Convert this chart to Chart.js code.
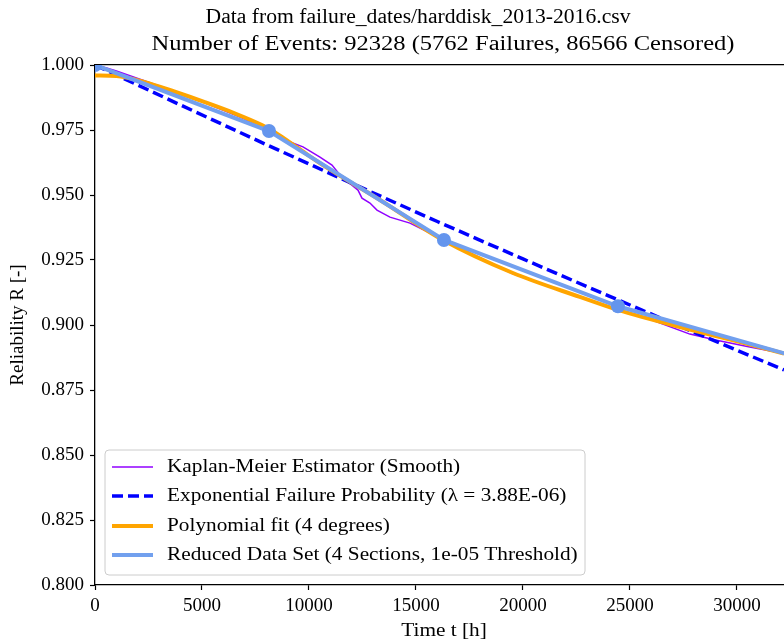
<!DOCTYPE html>
<html>
<head>
<meta charset="utf-8">
<script src="https://cdn.jsdelivr.net/npm/chart.js@4.4.1/dist/chart.umd.min.js"></script>
<style>
  html, body { margin: 0; padding: 0; background: #fff; overflow: hidden; }
</style>
</head>
<body>
<canvas id="chart" width="784" height="642"></canvas>
<script>
// Kaplan-Meier estimate (smoothed)
const kmTime = [0, 500, 1000, 2000, 3000, 4000, 5000, 6000, 7000, 8178, 9112, 9720, 10514, 11075, 11449, 11822, 12290, 12477, 12850, 13178, 13785, 14720, 15654, 16262, 17500, 19500, 21000, 22500, 24440, 26000, 27800, 29000, 30600, 32200];
const kmRel = [1.0, 0.999, 0.9977, 0.9948, 0.9919, 0.9888, 0.9858, 0.9826, 0.9792, 0.9738, 0.9704, 0.9685, 0.9646, 0.9615, 0.9577, 0.955, 0.9519, 0.9488, 0.9469, 0.9442, 0.9415, 0.9392, 0.9354, 0.9333, 0.9278, 0.9198, 0.9155, 0.911, 0.906, 0.902, 0.8965, 0.8942, 0.8915, 0.889];

// exponential failure probability
const expTime = [0, 4000, 8000, 12000, 16000, 20000, 24000, 28000, 32200];
const expRel = [1.0, 0.9846, 0.9694, 0.9545, 0.9398, 0.9254, 0.9112, 0.8972, 0.8827];

// polynomial fit (4 degrees)
const polyTime = [0, 1000, 2300, 3700, 5100, 6500, 7800, 8400, 9500, 10650, 13320, 16260, 19530, 22660, 24440, 27340, 30470, 32200];
const polyRel = [0.996, 0.9958, 0.9935, 0.9898, 0.9858, 0.9815, 0.9769, 0.9742, 0.968, 0.9615, 0.9481, 0.9327, 0.92, 0.9108, 0.9058, 0.8992, 0.8928, 0.889];

// reduced data set (4 sections)
const redTime = [0, 8131, 16308, 24439, 32600];
const redRel = [1.0, 0.9746, 0.9327, 0.9072, 0.8882];

const xTicks = [0, 5000, 10000, 15000, 20000, 25000, 30000];
const yTicks = [0.8, 0.825, 0.85, 0.875, 0.9, 0.925, 0.95, 0.975, 1.0];

const titleLines = [
  "Data from failure_dates/harddisk_2013-2016.csv",
  "Number of Events: 92328 (5762 Failures, 86566 Censored)"
];
const legendLabels = [
  "Kaplan-Meier Estimator (Smooth)",
  "Exponential Failure Probability (\u03bb = 3.88E-06)",
  "Polynomial fit (4 degrees)",
  "Reduced Data Set (4 Sections, 1e-05 Threshold)"
];

const serif = "'Liberation Serif', 'DejaVu Serif', serif";
Chart.defaults.font.family = serif;
Chart.defaults.font.size = 19;
Chart.defaults.color = "#000";

function toPoints(xs, ys) {
  const pts = [];
  for (let i = 0; i < xs.length; i++) {
    pts.push({ x: xs[i], y: ys[i] });
  }
  return pts;
}

const datasets = [
  {
    label: legendLabels[0],
    data: toPoints(kmTime, kmRel),
    borderColor: "#9000ff",
    borderWidth: 1.5,
    pointRadius: 0,
    order: 4,
  },
  {
    label: legendLabels[1],
    data: toPoints(expTime, expRel),
    borderColor: "#0000ff",
    borderWidth: 3.5,
    borderDash: [11, 5],
    pointRadius: 0,
    order: 3,
  },
  {
    label: legendLabels[2],
    data: toPoints(polyTime, polyRel),
    borderColor: "#ffa500",
    borderWidth: 4,
    pointRadius: 0,
    cubicInterpolationMode: "monotone",
    order: 2,
  },
  {
    label: legendLabels[3],
    data: toPoints(redTime, redRel),
    borderColor: "#72a0ee",
    backgroundColor: "#6495ed",
    borderWidth: 4,
    pointRadius: 7,
    pointBorderWidth: 0,
    order: 1,
  },
];

// text a bit wider than Liberation Serif, closer to the LaTeX font
function wideText(ctx, text, x, y, sx) {
  ctx.save();
  ctx.translate(x, y);
  ctx.scale(sx, 1);
  ctx.fillText(text, 0, 0);
  ctx.restore();
}

// title, x label and legend drawn by hand, like matplotlib places them
const figurePlugin = {
  id: "figure",
  afterDraw(chart) {
    const ctx = chart.ctx;
    ctx.save();
    ctx.fillStyle = "#000";
    ctx.font = "20px " + serif;
    ctx.textAlign = "center";
    ctx.textBaseline = "middle";
    // fit each title line to the width it has in the original
    const widths = [425, 583];
    const centers = [418, 443];
    const ys = [18, 45];
    for (let i = 0; i < titleLines.length; i++) {
      const w = ctx.measureText(titleLines[i]).width;
      wideText(ctx, titleLines[i], centers[i], ys[i], widths[i] / w);
    }

    // x axis label (the axes run on past the right edge of the picture)
    ctx.font = "19px " + serif;
    wideText(ctx, "Time t [h]", 444, 631, 1.12);

    // legend box
    const bx = 105, by = 450, bw = 480, bh = 125;
    ctx.beginPath();
    ctx.roundRect(bx, by, bw, bh, 4);
    ctx.fillStyle = "rgba(255,255,255,0.8)";
    ctx.fill();
    ctx.strokeStyle = "#cccccc";
    ctx.lineWidth = 1;
    ctx.stroke();

    const rows = [467, 496, 526, 555];
    ctx.textAlign = "left";
    for (let i = 0; i < datasets.length; i++) {
      const ds = datasets[i];
      ctx.beginPath();
      ctx.strokeStyle = ds.borderColor;
      ctx.lineWidth = ds.borderWidth;
      ctx.setLineDash(ds.borderDash || []);
      ctx.moveTo(112, rows[i]);
      ctx.lineTo(153, rows[i]);
      ctx.stroke();
      ctx.setLineDash([]);
      ctx.fillStyle = "#000";
      wideText(ctx, legendLabels[i], 167, rows[i], 1.12);
    }
    ctx.restore();
  },
};

const ctx = document.getElementById("chart");
new Chart(ctx, {
  type: "line",
  data: { datasets: datasets },
  options: {
    responsive: false,
    animation: false,
    devicePixelRatio: 1,
    layout: { autoPadding: false, padding: { top: 65, left: 0, right: 0, bottom: 0 } },
    plugins: {
      legend: { display: false },
      title: { display: false },
      tooltip: { enabled: false },
    },
    scales: {
      x: {
        type: "linear",
        min: 0,
        max: 32200,
        afterBuildTicks: (scale) => {
          scale.ticks = xTicks.map((v) => ({ value: v }));
        },
        afterFit: (scale) => {
          scale.height = 57;
          scale.paddingLeft = 0;
          scale.paddingRight = 0;
        },
        ticks: { padding: 5, maxRotation: 0, callback: (v) => String(v) },
        grid: { drawOnChartArea: false, tickLength: 5, color: "#000", tickWidth: 1.2 },
        border: { color: "#000", width: 1.3 },
      },
      xTop: {
        type: "linear",
        position: "top",
        min: 0,
        max: 32200,
        ticks: { display: false },
        grid: { display: false, drawTicks: false },
        border: { color: "#000", width: 1.3 },
        afterFit: (scale) => {
          scale.height = 0;
          scale.paddingLeft = 0;
          scale.paddingRight = 0;
        },
      },
      y: {
        type: "linear",
        min: 0.8,
        max: 1.0,
        afterBuildTicks: (scale) => {
          scale.ticks = yTicks.map((v) => ({ value: v }));
        },
        afterFit: (scale) => {
          scale.width = 95;
          scale.paddingTop = 0;
          scale.paddingBottom = 0;
        },
        ticks: { padding: 6, callback: (v) => Number(v).toFixed(3) },
        grid: { drawOnChartArea: false, tickLength: 5, color: "#000", tickWidth: 1.2 },
        border: { color: "#000", width: 1.3 },
        title: { display: true, text: "Reliability R [-]", padding: { top: 7, bottom: 4 } },
      },
    },
  },
  plugins: [figurePlugin],
});
</script>
</body>
</html>
